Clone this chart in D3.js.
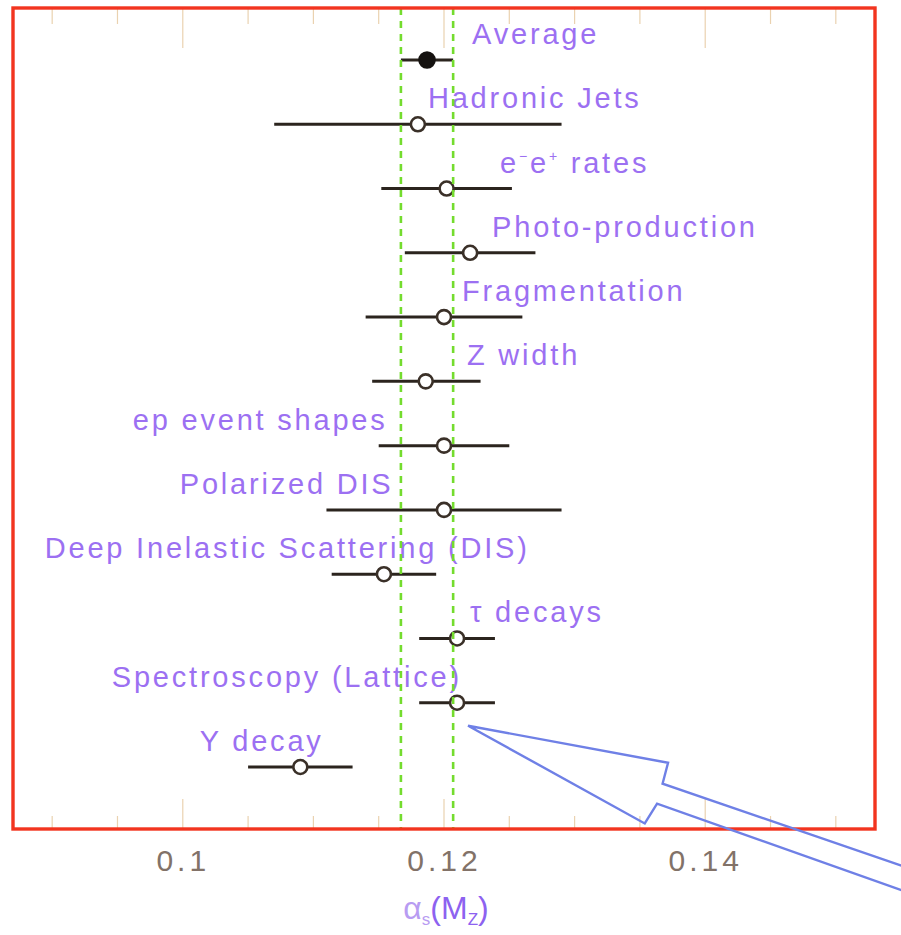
<!DOCTYPE html>
<html>
<head>
<meta charset="utf-8">
<script src="https://cdn.jsdelivr.net/npm/d3@7"></script>
<style>
  html, body { margin: 0; padding: 0; background: #ffffff; }
  svg { display: block; }
  text { font-family: "Liberation Sans", Arial, sans-serif; }
</style>
</head>
<body>
<svg id="chart" width="901" height="935"></svg>
<script>
// alpha_s(M_Z) determinations, one row per method
const categories = [
  "Average", "Hadronic Jets", "e+e- rates", "Photo-production", "Fragmentation",
  "Z width", "ep event shapes", "Polarized DIS", "Deep Inelastic Scattering (DIS)",
  "τ decays", "Spectroscopy (Lattice)", "Υ decay"
];
const centralValues = [0.1187, 0.1180, 0.1202, 0.1220, 0.1200, 0.1186, 0.1200, 0.1200, 0.1154, 0.1210, 0.1210, 0.1090];
const errorLow      = [0.0020, 0.0110, 0.0050, 0.0050, 0.0060, 0.0041, 0.0050, 0.0090, 0.0040, 0.0029, 0.0029, 0.0040];
const errorHigh     = [0.0020, 0.0110, 0.0050, 0.0050, 0.0060, 0.0042, 0.0050, 0.0090, 0.0040, 0.0029, 0.0029, 0.0040];
// where each row's caption starts, in alpha_s units
const labelStart    = [0.12215, 0.11877, 0.12429, 0.12368, 0.12138, 0.12176, 0.09617, 0.09977, 0.08943, 0.12199, 0.09456, 0.1013];

const majorTicks = [0.1, 0.12, 0.14];
const majorTickLabels = ["0.1", "0.12", "0.14"];
const minorTicks = [0.09, 0.095, 0.105, 0.11, 0.115, 0.125, 0.13, 0.135, 0.145, 0.15];

const svg = d3.select("#chart");
const frame = { left: 13, top: 8, right: 875, bottom: 829 };

const x = d3.scaleLinear().domain([0.087, 0.153]).range([frame.left, frame.right]);
const y = d3.scalePoint().domain(categories).range([60, 767]);

const rows = categories.map((c, i) => ({
  name: c,
  value: centralValues[i],
  lo: centralValues[i] - errorLow[i],
  hi: centralValues[i] + errorHigh[i],
  labelAt: labelStart[i],
  isAverage: i === 0
}));

// inner tick marks along the top and bottom of the frame
const tickColor = "#ead2b0";
function tickRow(g, vals, len, yEdge, dir) {
  g.selectAll("line").data(vals).join("line")
    .attr("x1", d => x(d)).attr("x2", d => x(d))
    .attr("y1", yEdge).attr("y2", yEdge + dir * len)
    .attr("stroke", tickColor).attr("stroke-width", 1.2);
}
const ticks = svg.append("g");
tickRow(ticks.append("g"), minorTicks, 13, frame.bottom, -1);
tickRow(ticks.append("g"), majorTicks, 30, frame.bottom, -1);
tickRow(ticks.append("g"), minorTicks, 16, frame.top, 1);
tickRow(ticks.append("g"), majorTicks, 40, frame.top, 1);

// tick labels under the frame
const xAxis = d3.axisBottom(x).tickValues(majorTicks).tickSize(0)
  .tickFormat((d, i) => majorTickLabels[i]);
const axisG = svg.append("g").attr("transform", `translate(0,${frame.bottom})`).call(xAxis);
axisG.select(".domain").remove();
axisG.selectAll("text")
  .attr("dy", null).attr("y", 42)
  .attr("fill", "#827268")
  .style("font-size", "30px")
  .style("letter-spacing", "4px")
  .style("font-family", "'Liberation Sans', Arial, sans-serif");

// error bars
const marks = svg.append("g");
marks.selectAll("line.err").data(rows).join("line")
  .attr("class", "err")
  .attr("x1", d => x(d.lo)).attr("x2", d => x(d.hi))
  .attr("y1", d => y(d.name)).attr("y2", d => y(d.name))
  .attr("stroke", "#2b241e").attr("stroke-width", 3);

// central values
marks.selectAll("circle").data(rows).join("circle")
  .attr("cx", d => x(d.value)).attr("cy", d => y(d.name))
  .attr("r", d => d.isAverage ? 7.5 : 7)
  .attr("fill", d => d.isAverage ? "#151210" : "#ffffff")
  .attr("stroke", d => d.isAverage ? "#151210" : "#3a3028")
  .attr("stroke-width", 2.6);

// captions
const labelColor = "#9c70f2";
const labels = svg.append("g")
  .style("font-size", "29px").style("letter-spacing", "2.8px").attr("fill", labelColor);
labels.selectAll("text").data(rows).join("text")
  .attr("x", d => x(d.labelAt)).attr("y", d => y(d.name) - 16)
  .each(function (d) {
    const t = d3.select(this);
    if (d.name === "e+e- rates") {
      t.append("tspan").text("e");
      t.append("tspan").text("−").attr("dy", -12).style("font-size", "14px");
      t.append("tspan").text("e").attr("dy", 12);
      t.append("tspan").text("+").attr("dy", -12).style("font-size", "14px");
      t.append("tspan").text(" rates").attr("dy", 12);
    } else {
      t.text(d.name);
    }
  });

// average band edges
const avg = rows[0];
svg.append("g").selectAll("line").data([avg.lo, avg.hi]).join("line")
  .attr("x1", d => x(d)).attr("x2", d => x(d))
  .attr("y1", frame.top).attr("y2", frame.bottom)
  .attr("stroke", "#74dc2e").attr("stroke-width", 2.6)
  .attr("stroke-dasharray", "7,6");

// frame
svg.append("rect")
  .attr("x", frame.left).attr("y", frame.top)
  .attr("width", frame.right - frame.left).attr("height", frame.bottom - frame.top)
  .attr("fill", "none").attr("stroke", "#f2341f").attr("stroke-width", 3.4);

// axis title: alpha_s(M_Z)
const title = svg.append("text")
  .attr("x", x(0.12) + 2).attr("y", 919).attr("text-anchor", "middle")
  .style("font-size", "32px").attr("fill", "#8d62f0");
title.append("tspan").text("α").attr("fill", "#b89cf2");
title.append("tspan").text("s").attr("dy", 6).style("font-size", "17px").attr("fill", "#b89cf2");
title.append("tspan").text("(M").attr("dy", -6);
title.append("tspan").text("Z").attr("dy", 6).style("font-size", "17px");
title.append("tspan").text(")").attr("dy", -6);

// hollow arrow pointing at the lattice result
const spec = rows[10];
const tipX = x(spec.value) + 11, tipY = y(spec.name) + 23;
const arrowShape = [[0, 0], [200, 37], [194.5, 58], [460, 149], [455, 172], [189, 78], [176.7, 97.7]];
svg.append("path")
  .attr("d", d3.line()(arrowShape.map(([dx, dy]) => [tipX + dx, tipY + dy])) + "Z")
  .attr("fill", "none").attr("stroke", "#6f80e6").attr("stroke-width", 2.4)
  .attr("stroke-linejoin", "miter");
</script>
</body>
</html>
